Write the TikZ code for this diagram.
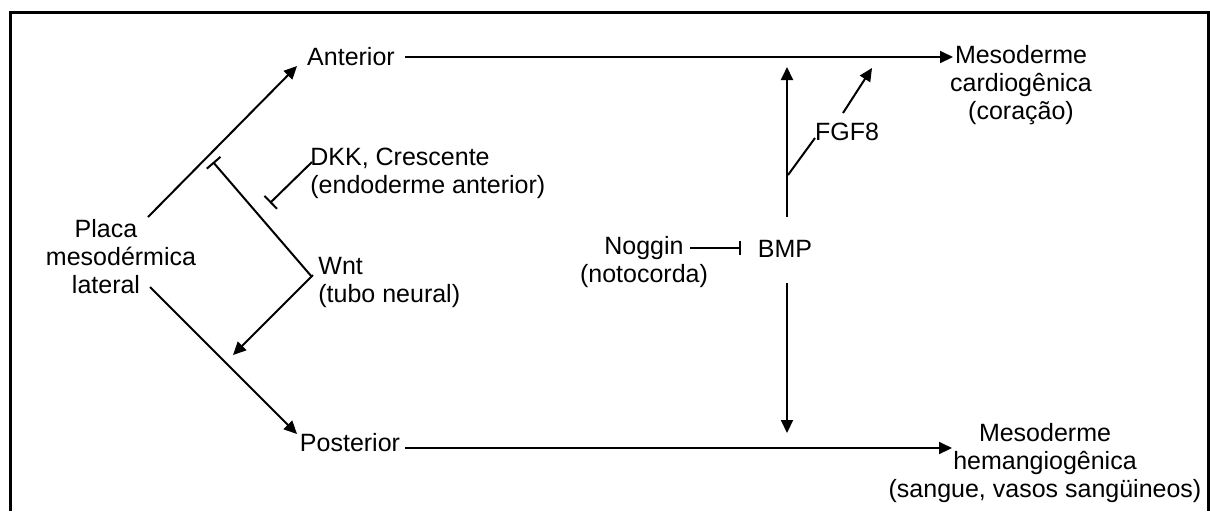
\documentclass[tikz,border=0pt]{standalone}
\usepackage{fontspec}
\setmainfont{Liberation Sans}
\usetikzlibrary{arrows.meta}
\begin{document}
\begin{tikzpicture}[x=0.5pt,y=-0.5pt,
  lbl/.style={inner sep=0pt, font=\fontsize{12.5}{14}\selectfont, align=center},
  lbll/.style={lbl, align=left, anchor=west},
  act/.style={line width=1pt, -{Triangle[length=6.5pt,width=6pt]}},
  inh/.style={line width=1pt, -{Bar[width=9pt,line width=1pt]}},
  plain/.style={line width=1pt},
]
\useasboundingbox (0,0) rectangle (1210,511);
% frame
\draw[line width=1.5pt] (10,511) -- (10,12) -- (1208,12) -- (1208,511);

% text nodes
\node[lbl] (ant) at (351,57) {Anterior};
\node[lbl] (post) at (350,443) {Posterior};
\node[lbl] (placa) at (121,257) {Placa\hspace*{15pt}\\mesodérmica\\lateral\hspace*{15pt}};
\node[lbl] (mcard) at (1021,85) {Mesoderme\\cardiogênica\\(coração)};
\node[lbl] (mhem) at (1045,463) {Mesoderme\\hemangiogênica\\(sangue, vasos sangüineos)};
\node[lbll] (dkk) at (310,173) {DKK, Crescente\\(endoderme anterior)};
\node[lbll] (wnt) at (318,282) {Wnt\\(tubo neural)};
\node[lbl] (nog) at (644,262) {Noggin\\(notocorda)};
\node[lbl] (bmp) at (785,249) {BMP};
\node[lbl] (fgf) at (847,132) {FGF8};

% anchor points of connectors
\coordinate (placaUp) at (148,217);
\coordinate (antIn) at (297,66);
\coordinate (placaDn) at (150,287);
\coordinate (postIn) at (297,434);
\coordinate (antOut) at (405,57);
\coordinate (mcardIn) at (953,57);
\coordinate (postOut) at (405,448);
\coordinate (mhemIn) at (952,448);
\coordinate (wntA) at (312,277);
\coordinate (wntB) at (313,275);
\coordinate (inhWnt) at (213,162);
\coordinate (dkkA) at (312,162);
\coordinate (inhDkk) at (270,203);
\coordinate (wntTip) at (233,355);
\coordinate (nogOut) at (690,248);
\coordinate (bmpIn) at (741,248);
\coordinate (bmpUpS) at (787,217);
\coordinate (bmpUpE) at (787,67);
\coordinate (bmpDnS) at (787,283);
\coordinate (bmpDnE) at (787,433);
\coordinate (fgfBr) at (788,175);
\coordinate (fgfIn) at (815,138);
\coordinate (fgfOut) at (843,113);
\coordinate (fgfTip) at (872,68);

% connectors
\draw[act] (placaUp) -- (antIn);
\draw[act] (placaDn) -- (postIn);
\draw[act] (antOut) -- (mcardIn);
\draw[act] (postOut) -- (mhemIn);
\draw[inh] (wntA) -- (inhWnt);
\draw[inh] (dkkA) -- (inhDkk);
\draw[act] (wntB) -- (wntTip);
\draw[line width=1pt, -{Bar[width=7pt,line width=1pt]}] (nogOut) -- (bmpIn);
\draw[act] (bmpUpS) -- (bmpUpE);
\draw[act] (bmpDnS) -- (bmpDnE);
\draw[plain] (fgfBr) -- (fgfIn);
\draw[act] (fgfOut) -- (fgfTip);
\end{tikzpicture}
\end{document}
